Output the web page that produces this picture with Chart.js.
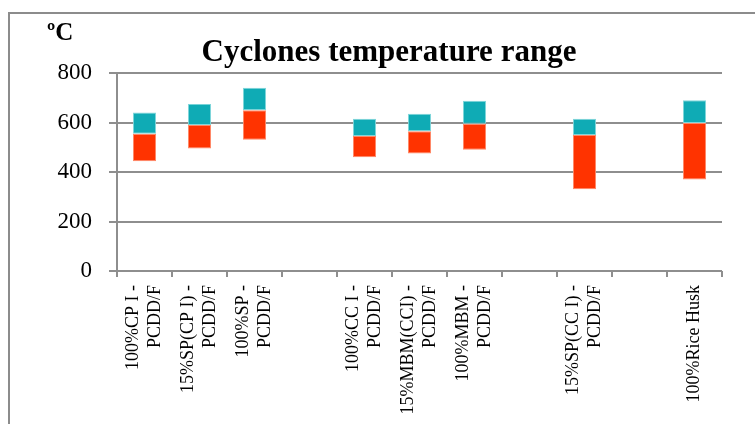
<!DOCTYPE html>
<html>
<head>
<meta charset="utf-8">
<title>Cyclones temperature range</title>
<script src="https://cdn.jsdelivr.net/npm/chart.js@4.4.1/dist/chart.umd.min.js"></script>
<style>
    html, body { margin: 0; padding: 0; background: #fff; overflow: hidden; }
    #wrap { position: relative; width: 755px; height: 424px; }
    #frame {
        position: absolute; left: 8px; top: 12px; width: 800px; height: 500px;
        border: 2px solid #8c8c8c; box-sizing: border-box; pointer-events: none;
    }
    canvas { position: absolute; left: 0; top: 0; }
</style>
</head>
<body>
<div id="wrap">
    <canvas id="rangeChart" width="755" height="424"></canvas>
    <div id="frame"></div>
</div>
<script>
// Categories (empty slots keep the gaps between groups)
const categories = [
    ['100%CP I -', 'PCDD/F'],
    ['15%SP(CP I) -', 'PCDD/F'],
    ['100%SP -', 'PCDD/F'],
    '',
    ['100%CC I -', 'PCDD/F'],
    ['15%MBM(CCI) -', 'PCDD/F'],
    ['100%MBM -', 'PCDD/F'],
    '',
    ['15%SP(CC I) -', 'PCDD/F'],
    '',
    '100%Rice Husk'
];

// Temperatures in ºC: bottom, middle split and top of each range
const lowTemps  = [443, 495, 530, null, 460, 475, 490, null, 330, null, 370];
const midTemps  = [555, 590, 650, null, 545, 565, 595, null, 550, null, 598];
const highTemps = [640, 675, 740, null, 615, 635, 688, null, 615, null, 690];

const yTicks = [0, 200, 400, 600, 800];

const lowerRange = lowTemps.map((v, i) => v === null ? null : [v, midTemps[i]]);
const upperRange = midTemps.map((v, i) => v === null ? null : [v, highTemps[i]]);

const serif = '"Liberation Serif", "Times New Roman", serif';
const gridGray = '#8e8e8e';

// Title and unit label drawn above the plot
const headerText = {
    id: 'headerText',
    afterDraw(chart) {
        const ctx = chart.ctx;
        ctx.save();
        ctx.fillStyle = '#000';
        ctx.textBaseline = 'alphabetic';
        ctx.font = 'bold 31px ' + serif;
        ctx.textAlign = 'center';
        ctx.fillText('Cyclones temperature range', 389, 61);
        ctx.font = 'bold 25px ' + serif;
        ctx.textAlign = 'left';
        ctx.fillText('ºC', 47, 40);
        ctx.restore();
    }
};

// Vertical category labels, each multi-line block centred on its tick
const categoryLabels = {
    id: 'categoryLabels',
    afterDraw(chart) {
        const ctx = chart.ctx;
        const xs = chart.scales.x;
        const top = xs.top + 14;
        const lineGap = 22;
        ctx.save();
        ctx.fillStyle = '#000';
        ctx.font = '18px ' + serif;
        ctx.textAlign = 'right';
        ctx.textBaseline = 'middle';
        categories.forEach((lab, i) => {
            const lines = Array.isArray(lab) ? lab : [lab];
            const x = xs.getPixelForValue(i);
            lines.forEach((line, j) => {
                if (!line) return;
                const off = (j - (lines.length - 1) / 2) * lineGap;
                ctx.save();
                ctx.translate(x + off, top);
                ctx.rotate(-Math.PI / 2);
                ctx.fillText(line, 0, 0);
                ctx.restore();
            });
        });
        ctx.restore();
    }
};

new Chart(document.getElementById('rangeChart'), {
    type: 'bar',
    data: {
        labels: categories,
        datasets: [
            {
                label: 'lower',
                data: lowerRange,
                backgroundColor: '#ff3300',
                borderColor: '#ff8866',
                borderWidth: 1,
                borderSkipped: false
            },
            {
                label: 'upper',
                data: upperRange,
                backgroundColor: '#0fabb5',
                borderColor: '#7fd6da',
                borderWidth: 1,
                borderSkipped: false
            }
        ]
    },
    options: {
        responsive: false,
        animation: false,
        grouped: false,
        categoryPercentage: 1,
        barPercentage: 0.42,
        layout: { padding: { top: 73, right: 33, left: 0, bottom: 0 } },
        plugins: {
            legend: { display: false },
            title: { display: false },
            tooltip: { enabled: false }
        },
        scales: {
            x: {
                afterFit(scale) { scale.height = 153; },
                grid: {
                    offset: true,
                    drawOnChartArea: false,
                    drawTicks: true,
                    tickLength: 6,
                    color: gridGray,
                    lineWidth: 2
                },
                border: { display: false },
                ticks: { display: false, autoSkip: false }
            },
            y: {
                min: 0,
                max: 800,
                afterFit(scale) { scale.width = 117; },
                afterBuildTicks(scale) { scale.ticks = yTicks.map(v => ({ value: v })); },
                grid: {
                    color: gridGray,
                    lineWidth: 2,
                    tickLength: 8
                },
                border: { display: true, color: gridGray, width: 2 },
                ticks: {
                    padding: 17,
                    color: '#000',
                    font: { family: serif, size: 23 }
                }
            }
        }
    },
    plugins: [headerText, categoryLabels]
});
</script>
</body>
</html>
